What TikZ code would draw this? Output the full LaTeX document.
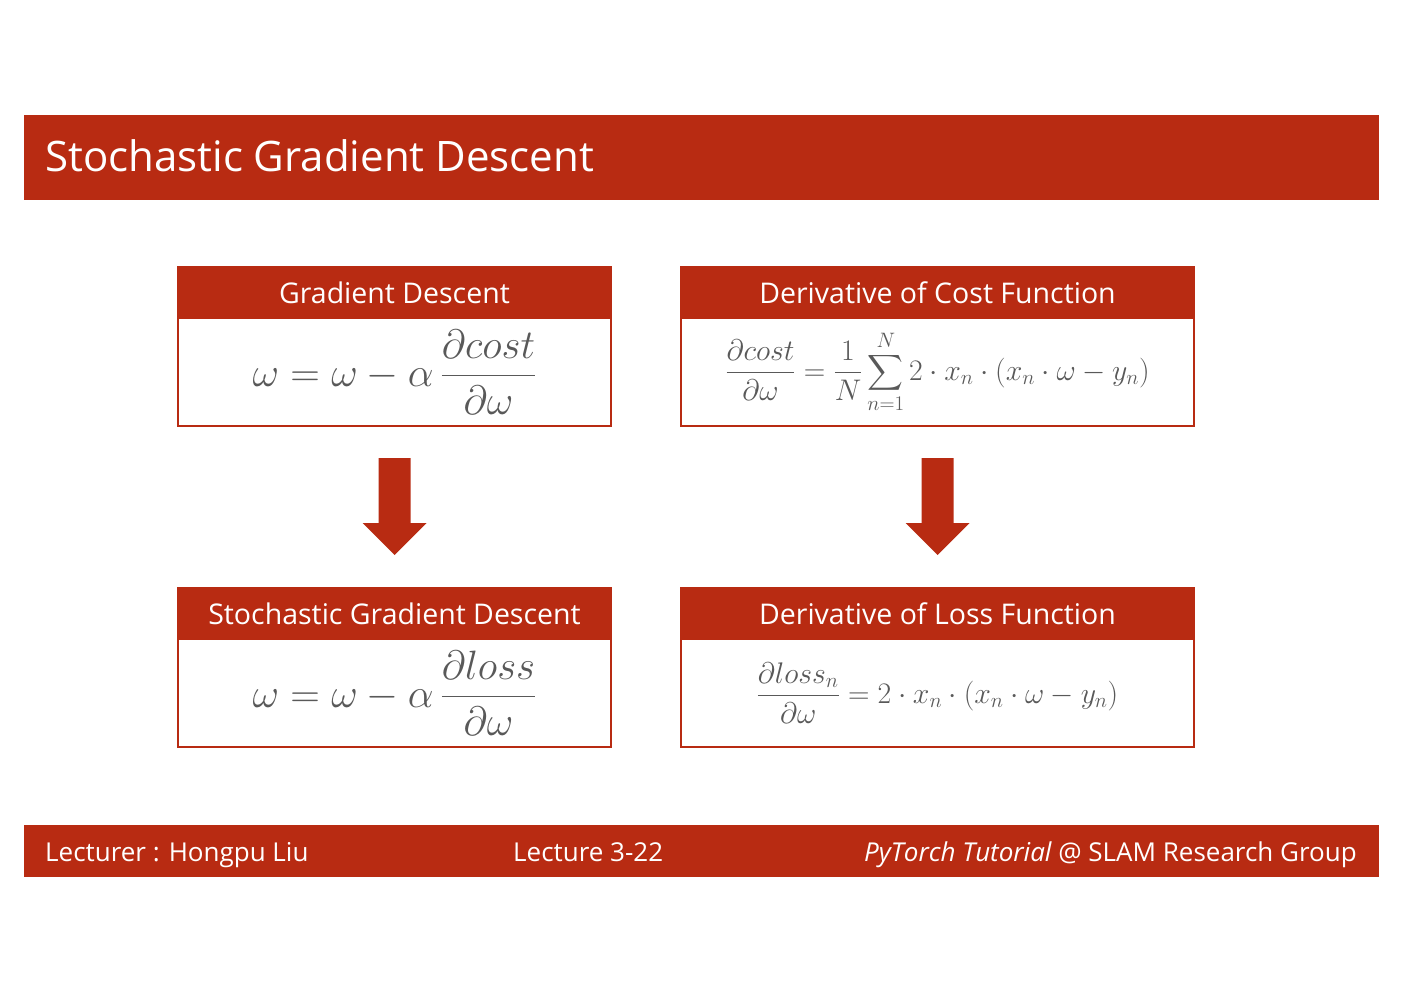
\RequirePackage{fix-cm}
\documentclass[tikz,border=0pt]{standalone}
\usepackage{amsmath}
\usepackage[no-math]{fontspec}
\setmainfont{Open Sans}
\usetikzlibrary{positioning,calc}
\definecolor{brick}{HTML}{B82B12}
\definecolor{slate}{HTML}{595959}
\tikzset{
  bar/.style={fill=brick, draw=none, minimum width=1355pt, inner sep=0pt, outer sep=0pt},
  hdr/.style={fill=brick, draw=brick, line width=1.5pt, minimum height=51pt,
    inner sep=0pt, outer sep=0pt, text=white, font=\fontsize{28.5pt}{32pt}\selectfont},
  body/.style={fill=white, draw=brick, line width=1.5pt, minimum height=108pt,
    inner sep=0pt, outer sep=0pt, text=slate},
  bigmath/.style={font=\fontsize{41pt}{46pt}\selectfont},
  smallmath/.style={font=\fontsize{29.8pt}{34pt}\selectfont},
  blk/.style={fill=brick, draw=none},
  btxt/.style={text=white, font=\fontsize{26pt}{30pt}\selectfont, inner sep=0pt},
}

\begin{document}
\begin{tikzpicture}[x=1pt,y=-1pt]
  \useasboundingbox (0,0) rectangle (1403,992);
  % title bar
  \node[bar, minimum height=85pt, anchor=north west] (title) at (24,115) {};
  \node[anchor=base west, text=white, inner sep=0pt, font=\fontsize{42pt}{48pt}\selectfont]
    (ttl) at (45,172) {Stochastic Gradient Descent};

  % left column
  \node[hdr, minimum width=433pt, anchor=north west] (gdh) at (178,267) {Gradient Descent};
  \node[body, bigmath, minimum width=433pt, below=0pt of gdh] (gd)
    {$\displaystyle \omega=\omega-\alpha\,\frac{\partial cost}{\partial\omega}$};
  \node[hdr, minimum width=433pt, anchor=north west] (sgdh) at (178,588) {Stochastic Gradient Descent};
  \node[body, bigmath, minimum width=433pt, below=0pt of sgdh] (sgd)
    {$\displaystyle \omega=\omega-\alpha\,\frac{\partial loss}{\partial\omega}$};

  % right column
  \node[hdr, minimum width=513pt, anchor=north west] (dch) at (681,267) {Derivative of Cost Function};
  \node[body, smallmath, minimum width=513pt, below=0pt of dch] (dc)
    {$\displaystyle \frac{\partial cost}{\partial\omega}=\frac{1}{N}\sum_{n=1}^{N}2\cdot x_n\cdot(x_n\cdot\omega-y_n)$};
  \node[hdr, minimum width=513pt, anchor=north west] (dlh) at (681,588) {Derivative of Loss Function};
  \node[body, smallmath, minimum width=513pt, below=0pt of dlh] (dl)
    {$\displaystyle \frac{\partial loss_n}{\partial\omega}=2\cdot x_n\cdot(x_n\cdot\omega-y_n)$};

  % block arrows
  \foreach \a/\b in {gd/sgdh, dc/dlh}
    \fill[blk] ($(\a.south)+(-16,32)$) -- ($(\a.south)+(16,32)$) -- ($(\b.north)+(16,-65)$)
      -- ($(\b.north)+(32,-65)$) -- ($(\b.north)+(0,-33)$) -- ($(\b.north)+(-32,-65)$)
      -- ($(\b.north)+(-16,-65)$) -- cycle;

  % footer
  \node[bar, minimum height=52pt, anchor=north west] (foot) at (24,825) {};
  \node[btxt, anchor=base west] (lect) at (45,861) {Lecturer : Hongpu Liu};
  \node[btxt, anchor=base west] (num) at (513,861) {Lecture 3-22};
  \node[btxt, anchor=base east] (grp) at (1357,861) {\itshape PyTorch Tutorial\upshape\ @ SLAM Research Group};
\end{tikzpicture}
\end{document}
